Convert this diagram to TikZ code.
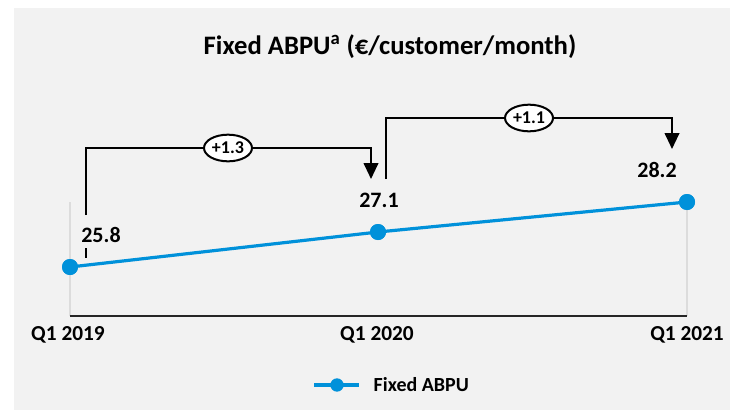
\documentclass[tikz,border=0pt]{standalone}
\usepackage{fontspec}
\setmainfont{Carlito}
\usetikzlibrary{arrows.meta,shapes.geometric}
\definecolor{abpublue}{RGB}{0,145,218}
\definecolor{panelgray}{RGB}{242,242,242}
\definecolor{gridgray}{RGB}{220,220,220}

\begin{document}
\begin{tikzpicture}[x=0.75pt,y=-0.75pt,
  datapt/.style={circle,fill=abpublue,inner sep=0pt,minimum size=12pt},
  vallabel/.style={font=\fontsize{16.5}{19}\selectfont\bfseries},
  axislabel/.style={font=\fontsize{16}{19}\selectfont\bfseries},
  delta/.style={ellipse,draw,fill=white,line width=1.5pt,inner sep=0pt,minimum width=36pt,minimum height=20pt,font=\fontsize{13.5}{15}\selectfont\bfseries},
  bracket/.style={line width=1.5pt},
  jump/.style={bracket,-{Triangle[width=11pt,length=12pt]}}]
\useasboundingbox (0,0) rectangle (730,410);
\fill[panelgray] (14,8) rectangle (730,410);
\node[font=\fontsize{20}{24}\selectfont\bfseries] (title) at (390,47) {Fixed ABPU\textsuperscript{a} (€/customer/month)};

\coordinate (g1) at (70,202);
\coordinate (g1b) at (70,316);
\coordinate (g3) at (687,202);
\coordinate (g3b) at (687,316);
\draw[gridgray,line width=1pt] (g1) -- (g1b);
\draw[gridgray,line width=1pt] (g3) -- (g3b);
\draw[black!85,line width=1.5pt] (g1b) -- (g3b);

\node[axislabel] (q19) at (68,335) {Q1 2019};
\node[axislabel] (q20) at (377,335) {Q1 2020};
\node[axislabel] (q21) at (687,335) {Q1 2021};

\node[datapt] (p1) at (70,267) {};
\node[datapt] (p2) at (378,232) {};
\node[datapt] (p3) at (687,202) {};
\draw[abpublue,line width=2.4pt] (p1.center) -- (p2.center) -- (p3.center);
\node[datapt] at (p1) {};
\node[datapt] at (p2) {};
\node[datapt] at (p3) {};

\node[vallabel] (v1) at (101,235) {25.8};
\node[vallabel] (v2) at (379,200) {27.1};
\node[vallabel] (v3) at (657,170) {28.2};

\node[delta] (d1) at (228,148) {+1.3};
\node[delta] (d2) at (529,118) {+1.1};
\coordinate (b1) at (86,215);
\coordinate (t1) at (371,179);
\coordinate (k1) at (86,248);
\coordinate (k1b) at (86,258);
\coordinate (b2) at (386,179);
\coordinate (t2) at (672,149);
\draw[bracket] (b1) |- (d1.west);
\draw[jump] (d1.east) -| (t1);
\draw[bracket] (k1) -- (k1b);
\draw[bracket] (b2) |- (d2.west);
\draw[jump] (d2.east) -| (t2);

\coordinate (lg0) at (314,385);
\coordinate (lg1) at (359,385);
\draw[abpublue,line width=2.4pt] (lg0) -- (lg1);
\node[datapt,minimum size=10pt] (lgdot) at (337,385) {};
\node[anchor=west,font=\fontsize{15}{18}\selectfont\bfseries] (lgtxt) at (369,385) {Fixed ABPU};
\end{tikzpicture}
\end{document}
